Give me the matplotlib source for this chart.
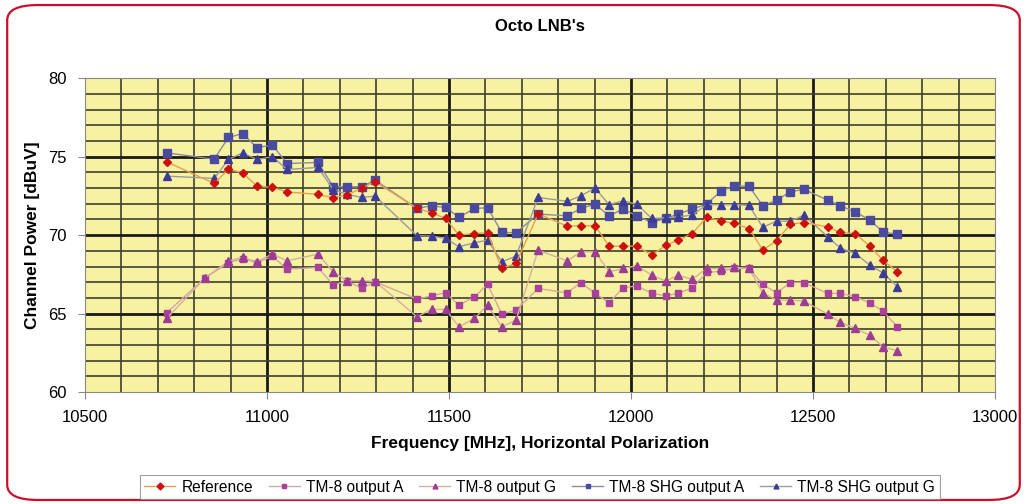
import numpy as np
import matplotlib.pyplot as plt
from matplotlib.patches import FancyBboxPatch

plt.rcParams['font.family'] = ['Liberation Sans', 'DejaVu Sans']

# frequencies [MHz]
freq = [10724, 10855, 10894, 10933, 10972, 11015, 11055, 11140, 11182, 11220,
        11260, 11297, 11412, 11452, 11491, 11527, 11570, 11606, 11645, 11684,
        11745, 11825, 11862, 11901, 11940, 11978, 12016, 12057, 12095, 12130,
        12168, 12208, 12247, 12284, 12324, 12362, 12400, 12438, 12475, 12540,
        12575, 12616, 12656, 12692, 12732]
freq_tm8 = [10724, 10830, 10894, 10933, 10972, 11015, 11055, 11140, 11182, 11220,
            11260, 11297, 11412, 11452, 11491, 11527, 11570, 11606, 11645, 11684,
            11745, 11825, 11862, 11901, 11940, 11978, 12016, 12057, 12095, 12130,
            12168, 12208, 12247, 12284, 12324, 12362, 12400, 12438, 12475, 12540,
            12575, 12616, 12656, 12692, 12732]

reference = [74.67, 73.29, 74.2, 73.97, 73.12, 73.04, 72.75, 72.59, 72.38, 72.55,
             73.0, 73.4, 71.7, 71.42, 71.06, 70.0, 70.1, 70.15, 67.88, 68.2,
             71.35, 70.57, 70.6, 70.6, 69.3, 69.3, 69.3, 68.73, 69.34, 69.68,
             70.1, 71.13, 70.9, 70.74, 70.42, 69.06, 69.63, 70.7, 70.8, 70.53,
             70.17, 70.1, 69.3, 68.4, 67.66]
tm8_a = [65.05, 67.28, 68.24, 68.5, 68.24, 68.65, 67.83, 67.94, 66.82, 67.09,
         66.6, 67.03, 65.92, 66.13, 66.32, 65.54, 66.07, 66.86, 64.97, 65.22,
         66.6, 66.32, 66.98, 66.29, 65.69, 66.64, 66.77, 66.29, 66.14, 66.29,
         66.64, 67.62, 67.7, 67.88, 67.88, 66.86, 66.32, 66.98, 66.98, 66.29,
         66.29, 66.07, 65.69, 65.16, 64.16]
tm8_g = [64.69, 67.28, 68.35, 68.58, 68.3, 68.8, 68.36, 68.79, 67.66, 67.09,
         67.09, 67.05, 64.8, 65.27, 65.27, 64.16, 64.69, 65.54, 64.16, 64.59,
         69.04, 68.36, 68.94, 68.94, 67.66, 67.88, 68.05, 67.45, 67.07, 67.45,
         67.18, 67.88, 67.88, 67.94, 67.88, 66.32, 65.86, 65.86, 65.8, 64.97,
         64.44, 64.06, 63.63, 62.89, 62.63]
shg_a = [75.24, 74.84, 76.22, 76.47, 75.58, 75.73, 74.56, 74.63, 73.08, 73.08,
         73.08, 73.5, 71.7, 71.87, 71.76, 71.13, 71.7, 71.74, 70.17, 70.15,
         71.34, 71.23, 71.7, 71.97, 71.23, 71.66, 71.23, 70.8, 71.06, 71.34,
         71.66, 71.97, 72.82, 73.12, 73.12, 71.87, 72.23, 72.76, 72.92, 72.23,
         71.87, 71.48, 70.96, 70.21, 70.04]
shg_g = [73.76, 73.61, 74.82, 75.24, 74.82, 74.99, 74.18, 74.31, 72.9, 72.59,
         72.4, 72.48, 69.96, 69.94, 69.79, 69.26, 69.51, 69.68, 68.3, 68.66,
         72.4, 72.15, 72.5, 73.0, 71.94, 72.19, 71.97, 71.06, 71.1, 71.17,
         71.27, 71.94, 71.94, 71.94, 71.9, 70.5, 70.89, 70.89, 71.27, 69.9,
         69.18, 68.83, 68.09, 67.6, 66.71]

fig = plt.figure(figsize=(10.28, 5.04), dpi=100)

# red rounded frame of the magazine page
frame = FancyBboxPatch((0.007, 0.008), 0.985, 0.982,
                       boxstyle="round,pad=0,rounding_size=0.03",
                       transform=fig.transFigure, fill=False,
                       edgecolor='#C8102E', linewidth=1.6, zorder=0)
fig.patches.append(frame)

ax = fig.add_axes([0.0827, 0.222, 0.8852, 0.623])
ax.set_facecolor('#F7F2A2')

# grid
for x in np.arange(10600, 13000, 100):
    major = x % 500 == 0
    ax.axvline(x, color='#1a1a1a' if major else '#3f3f30',
               lw=2.0 if major else 1.2, zorder=1)
for y in np.arange(61, 80, 1):
    major = y % 5 == 0
    ax.axhline(y, color='#1a1a1a' if major else '#3f3f30',
               lw=2.0 if major else 1.2, zorder=1)

ax.plot(freq, reference, color='#E8A050', lw=1.0, marker='D', ms=4,
        mfc='#CC1010', mec='#CC1010', label='Reference', zorder=4)
ax.plot(freq_tm8, tm8_a, color='#D4A8A0', lw=1.0, marker='s', ms=5,
        mfc='#A8409C', mec='#A8409C', label='TM-8 output A', zorder=3)
ax.plot(freq_tm8, tm8_g, color='#D4B0A0', lw=1.0, marker='^', ms=5.5,
        mfc='#9C3C94', mec='#9C3C94', label='TM-8 output G', zorder=3)
ax.plot(freq, shg_a, color='#8C8C9C', lw=1.0, marker='s', ms=5.5,
        mfc='#4A4AA0', mec='#4A4AA0', label='TM-8 SHG output A', zorder=3)
ax.plot(freq, shg_g, color='#9A9AA0', lw=1.0, marker='^', ms=5.5,
        mfc='#3C3C98', mec='#3C3C98', label='TM-8 SHG output G', zorder=3)

ax.set_xlim(10500, 13000)
ax.set_ylim(60, 80)
ax.set_xticks(np.arange(10500, 13001, 500))
ax.set_yticks(np.arange(60, 81, 5))
ax.tick_params(labelsize=12, direction='out', length=5, color='#888888', pad=8)
for s in ax.spines.values():
    s.set_color('#888888')

ax.set_title("Octo LNB's", fontsize=12, fontweight='bold', pad=34)
ax.set_xlabel('Frequency [MHz], Horizontal Polarization', fontsize=12.5,
              fontweight='bold', labelpad=8)
ax.set_ylabel('Channel Power [dBuV]', fontsize=12.5, fontweight='bold', labelpad=6)

leg = fig.legend(loc='lower center', bbox_to_anchor=(0.525, -0.006), ncol=5,
                 fontsize=11.2, frameon=True, fancybox=False, handlelength=2.0,
                 handletextpad=0.4, columnspacing=1.0, borderpad=0.3)
leg.get_frame().set_edgecolor('#888888')
leg.get_frame().set_linewidth(0.8)
for h in leg.legend_handles:
    h.set_markersize(3.5)

fig.savefig('out.png', dpi=100)
